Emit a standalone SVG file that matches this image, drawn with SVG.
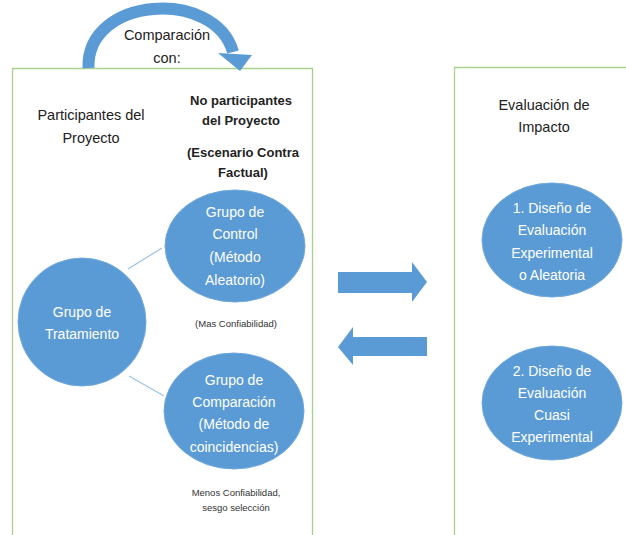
<svg xmlns="http://www.w3.org/2000/svg" width="626" height="535" viewBox="0 0 626 535">
<style>
.box{fill:none;stroke:#a9d18e;stroke-width:1.3}
.ell{fill:#5b9bd5;stroke:#6fa8dc;stroke-width:1}
.wt{font-family:"Liberation Sans",Arial,sans-serif;font-size:14px;fill:#fff;text-anchor:middle}
.dk{font-family:"Liberation Sans",Arial,sans-serif;font-size:14.5px;fill:#222;text-anchor:middle}
.bd{font-family:"Liberation Sans",Arial,sans-serif;font-size:13px;font-weight:bold;fill:#222;text-anchor:middle}
.sm{font-family:"Liberation Sans",Arial,sans-serif;font-size:9.5px;fill:#333;text-anchor:middle}
.blk{fill:#5b9bd5}
.ln{stroke:#9dc3e6;stroke-width:1.2;fill:none}
</style>
<rect width="626" height="535" fill="#fff"/>
<g id="panel-left">
<path class="box" d="M12.5 535 V68.5 H312.5 V535"/>
</g>
<g id="panel-right">
<path class="box" d="M454.5 535 V67.5 H626"/>
</g>
<g id="connectors">
<path d="M88.5 68 C86 -4, 215 -12, 233 52" stroke="#5b9bd5" stroke-width="12" fill="none"/>
<polygon class="blk" points="218,53 252,55 240,71"/>
<line class="ln" x1="128" y1="269" x2="162" y2="248"/>
<line class="ln" x1="129" y1="376" x2="164" y2="396"/>
<polygon id="arrow-right" class="blk" points="338,272 412,272 412,262 427,282 412,302 412,293 338,293"/>
<polygon id="arrow-left" class="blk" points="427,337 353,337 353,327 338,347 353,365 353,356 427,356"/>
</g>
<g id="label-comparacion">
<text class="dk" x="167" y="40">Comparación</text>
<text class="dk" x="167" y="63">con:</text>
</g>
<g id="label-participantes">
<text class="dk" x="91" y="120" font-size="15">Participantes del</text>
<text class="dk" x="91" y="143" font-size="15">Proyecto</text>
</g>
<g id="label-no-participantes">
<text class="bd" x="241" y="105">No participantes</text>
<text class="bd" x="241" y="125">del Proyecto</text>
<text class="bd" x="243" y="157">(Escenario Contra</text>
<text class="bd" x="243" y="177">Factual)</text>
</g>
<g id="label-evaluacion">
<text class="dk" x="544" y="110" font-size="14">Evaluación de</text>
<text class="dk" x="544" y="132" font-size="14">Impacto</text>
</g>
<g id="node-control">
<ellipse class="ell" cx="235" cy="246" rx="70" ry="56"/>
<text class="wt" x="235" y="217">Grupo de</text>
<text class="wt" x="235" y="239">Control</text>
<text class="wt" x="235" y="262">(Método</text>
<text class="wt" x="235" y="285">Aleatorio)</text>
</g>
<g id="node-tratamiento">
<ellipse class="ell" cx="82" cy="322" rx="64" ry="64"/>
<text class="wt" x="82" y="317">Grupo de</text>
<text class="wt" x="82" y="339">Tratamiento</text>
</g>
<g id="node-comparacion">
<ellipse class="ell" cx="234" cy="411" rx="70" ry="58"/>
<text class="wt" x="234" y="385">Grupo de</text>
<text class="wt" x="234" y="407">Comparación</text>
<text class="wt" x="234" y="429">(Método de</text>
<text class="wt" x="234" y="452">coincidencias)</text>
</g>
<g id="note-mas">
<text class="sm" x="236" y="327">(Mas Confiabilidad)</text>
</g>
<g id="note-menos">
<text class="sm" x="236" y="496">Menos Confiabilidad,</text>
<text class="sm" x="236" y="511">sesgo selección</text>
</g>
<g id="node-experimental">
<ellipse class="ell" cx="552" cy="240" rx="70" ry="57"/>
<text class="wt" x="552" y="213">1. Diseño de</text>
<text class="wt" x="552" y="235">Evaluación</text>
<text class="wt" x="552" y="258">Experimental</text>
<text class="wt" x="552" y="280">o Aleatoria</text>
</g>
<g id="node-cuasi">
<ellipse class="ell" cx="552" cy="403" rx="70" ry="57"/>
<text class="wt" x="552" y="376">2. Diseño de</text>
<text class="wt" x="552" y="398">Evaluación</text>
<text class="wt" x="552" y="420">Cuasi</text>
<text class="wt" x="552" y="442">Experimental</text>
</g>
</svg>
